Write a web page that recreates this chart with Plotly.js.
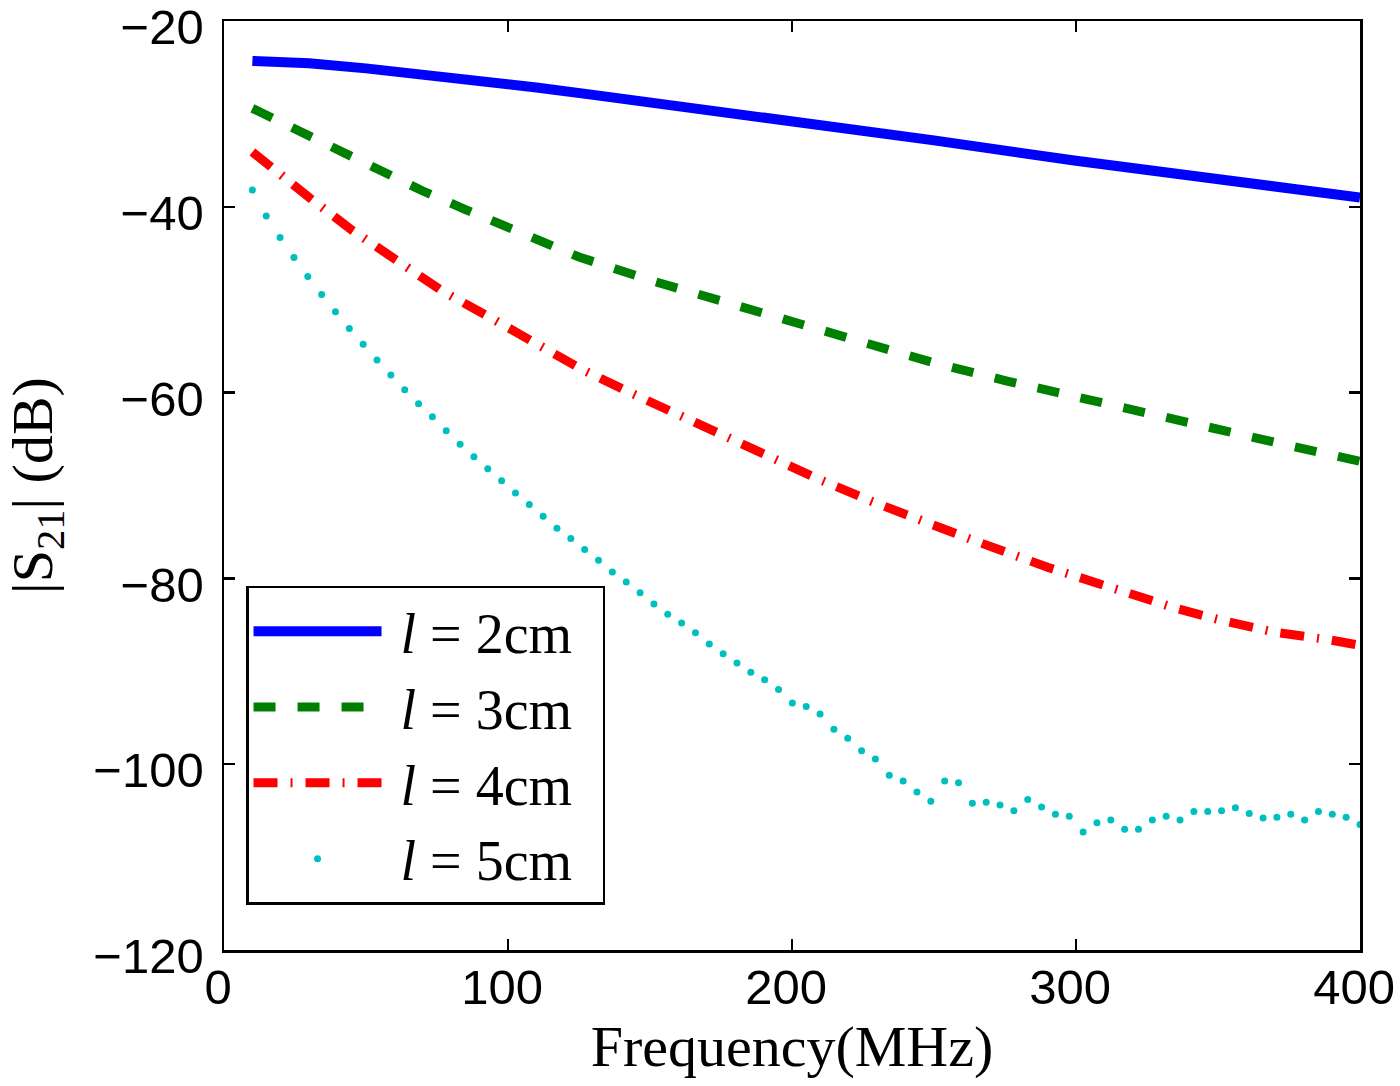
<!DOCTYPE html>
<html>
<head>
<meta charset="utf-8">
<script src="https://cdn.plot.ly/plotly-3.0.1.min.js"></script>
<style>
body { margin: 0; background: #fff; }
#chart { width: 1400px; height: 1086px; }
</style>
</head>
<body>
<div id="chart"></div>
<script>
// l = 2cm
const freq2 = [10, 30, 50, 70, 90, 110, 130, 170, 210, 250, 300, 350, 400];
const s21_2cm = [-24.3, -24.55, -25.1, -25.7, -26.4, -27.15, -27.95, -29.55, -31.2, -32.85, -35.05, -37.05, -39.0];

// l = 3cm
const freq3 = [10, 25, 40, 55, 70, 85, 100, 125, 150, 175, 200, 225, 250, 275, 300, 325, 350, 375, 400];
const s21_3cm = [-29.4, -31.6, -34.0, -36.2, -38.3, -40.3, -42.2, -45.4, -47.9, -50.1, -52.4, -54.6, -56.8, -58.7, -60.5, -62.3, -64.0, -65.7, -67.4];

// l = 4cm
const freq4 = [10, 20, 30, 45, 60, 77, 93, 110, 126, 143, 160, 176, 193, 210, 228, 245, 263, 290, 316, 335, 351, 370, 389, 400];
const s21_4cm = [-34.1, -36.7, -39.0, -42.5, -45.7, -49.1, -51.8, -54.7, -57.5, -60.0, -62.4, -64.7, -67.1, -69.4, -71.7, -73.8, -75.8, -78.8, -81.4, -83.2, -84.5, -85.8, -86.6, -87.2];

// l = 5cm (sample points)
const freq5 = [10, 14.875, 19.75, 24.625, 29.5, 34.375, 39.25, 44.125, 49, 53.875,
  58.75, 63.625, 68.5, 73.375, 78.25, 83.125, 88, 92.875, 97.75, 102.625,
  107.5, 112.375, 117.25, 122.125, 127, 131.875, 136.75, 141.625, 146.5, 151.375,
  156.25, 161.125, 166, 170.875, 175.75, 180.625, 185.5, 190.375, 195.25, 200.125,
  205, 209.875, 214.75, 219.625, 224.5, 229.375, 234.25, 239.125, 244, 248.875,
  253.75, 258.625, 263.5, 268.375, 273.25, 278.125, 283, 287.875, 292.75, 297.625,
  302.5, 307.375, 312.25, 317.125, 322, 326.875, 331.75, 336.625, 341.5, 346.375,
  351.25, 356.125, 361, 365.875, 370.75, 375.625, 380.5, 385.375, 390.25, 395.125, 400];
const s21_5cm = [-38.2, -41.0, -43.3, -45.45, -47.5, -49.45, -51.3, -53.1, -54.8, -56.5,
  -58.1, -59.7, -61.2, -62.6, -64.1, -65.55, -66.9, -68.2, -69.5, -70.8,
  -72.05, -73.3, -74.6, -75.7, -76.9, -78.05, -79.3, -80.4, -81.55, -82.75,
  -83.85, -84.8, -85.85, -87.05, -88.1, -89.1, -90.1, -90.9, -91.95, -93.4,
  -93.8, -94.6, -96.25, -97.2, -98.55, -99.45, -101.2, -101.8, -103.0, -104.0,
  -101.8, -102.0, -104.2, -104.1, -104.4, -105.0, -103.8, -104.6, -105.4, -105.6,
  -107.3, -106.3, -106.0, -107.0, -107.0, -106.0, -105.6, -106.0, -105.1, -105.1,
  -105.0, -104.7, -105.3, -105.8, -105.7, -105.4, -106.0, -105.1, -105.4, -105.7, -106.5];

const NB = '\u00a0';
const seriesNames = ['<i>l</i> = 2cm', '<i>l</i> = 3cm', '<i>l</i> = 4cm', '<i>l</i> = 5cm'];
const xTicks = [0, 100, 200, 300, 400];
const yTicks = [-120, -100, -80, -60, -40, -20];

const traces = [
  { x: freq2, y: s21_2cm, name: NB + seriesNames[0] + NB + '\u2009', mode: 'lines',
    line: { color: '#0000ff', width: 10 } },
  { x: freq3, y: s21_3cm, name: NB + seriesNames[1] + NB + '\u2009', mode: 'lines',
    line: { color: '#008000', width: 9, dash: '22px,22px' } },
  { x: freq4, y: s21_4cm, name: NB + seriesNames[2] + NB + '\u2009', mode: 'lines',
    line: { color: '#ff0000', width: 9, dash: '24px,13px,2px,13px' } },
  { x: freq5, y: s21_5cm, name: NB + seriesNames[3] + NB + '\u2009', mode: 'markers',
    marker: { color: '#00bfbf', size: 7, line: { width: 0 } } }
];

const axisCommon = {
  ticks: 'inside', ticklen: 11, tickwidth: 2.5, tickcolor: '#000',
  showline: true, linewidth: 2.5, linecolor: '#000', mirror: 'ticks',
  showgrid: false, zeroline: false, ticklabeloverflow: 'allow',
  tickfont: { family: 'Liberation Sans, Arial, sans-serif', size: 49, color: '#000' }
};

const layout = {
  width: 1400, height: 1086,
  margin: { l: 224, r: 40, t: 21, b: 136 },
  paper_bgcolor: '#fff', plot_bgcolor: '#fff',
  showlegend: true,
  legend: {
    x: 0.0194, y: 0.392, xanchor: 'left', yanchor: 'top',
    bordercolor: '#000', borderwidth: 2.5, bgcolor: '#fff',
    itemwidth: 128,
    font: { family: 'Liberation Serif, Times New Roman, serif', size: 56, color: '#000' }
  },
  xaxis: Object.assign({}, axisCommon, {
    range: [0, 400], tickvals: xTicks, ticktext: xTicks.map(String),
    ticklabelstandoff: -7, ticklabelshift: -6,
    title: { text: 'Frequency(MHz)', standoff: 12,
      font: { family: 'Liberation Serif, Times New Roman, serif', size: 58, color: '#000' } }
  }),
  yaxis: Object.assign({}, axisCommon, {
    range: [-120, -20], tickvals: yTicks,
    ticklabelstandoff: 8, ticklabelshift: 6,
    title: { text: '|S<sub>21</sub>| (dB)', standoff: 36,
      font: { family: 'Liberation Serif, Times New Roman, serif', size: 58, color: '#000' } }
  })
};

Plotly.newPlot('chart', traces, layout, { displayModeBar: false, staticPlot: true });
</script>
</body>
</html>
